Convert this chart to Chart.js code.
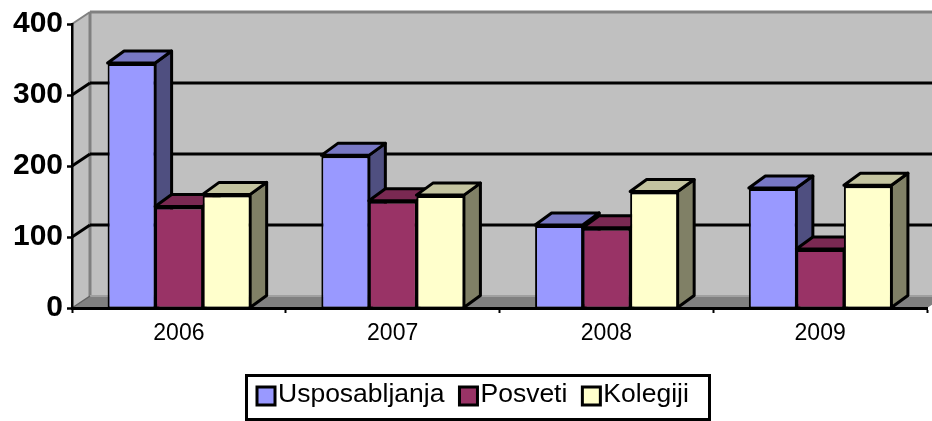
<!DOCTYPE html>
<html>
<head>
<meta charset="utf-8">
<style>
  html, body { margin: 0; padding: 0; background: #fff; overflow: hidden; }
  canvas { display: block; }
</style>
<script src="https://cdn.jsdelivr.net/npm/chart.js@4"></script>
</head>
<body>
<canvas id="trainingChart" width="932" height="421"></canvas>
<script>
const categories = ["2006", "2007", "2008", "2009"];
const usposabljanja = [345, 215, 117, 169];
const posveti = [143, 151, 113, 83];
const kolegiji = [160, 159, 164, 173];

const fronts = ["#9999FF", "#993366", "#FFFFCC"];
const tops = ["#7878C4", "#7A2952", "#C4C4A0"];
const sides = ["#4F4F80", "#4C1933", "#808066"];

// how far the back of the chart sits from the front plane
const wallDx = 18, wallDy = -12;
const barDx = 16.5, barDy = -12;

function poly(ctx, pts, fill, stroke, lw) {
    ctx.beginPath();
    pts.forEach((p, i) => i ? ctx.lineTo(p[0], p[1]) : ctx.moveTo(p[0], p[1]));
    ctx.closePath();
    if (fill) { ctx.fillStyle = fill; ctx.fill(); }
    if (stroke) { ctx.strokeStyle = stroke; ctx.lineWidth = lw; ctx.lineJoin = "round"; ctx.stroke(); }
}

function line(ctx, x1, y1, x2, y2, color, lw) {
    ctx.beginPath();
    ctx.moveTo(x1, y1);
    ctx.lineTo(x2, y2);
    ctx.strokeStyle = color;
    ctx.lineWidth = lw;
    ctx.stroke();
}

const wallsPlugin = {
    id: "walls",
    // walls, floor and the gridlines on the back wall
    beforeDraw(chart) {
        const ctx = chart.ctx, y = chart.scales.y, x = chart.scales.x;
        const l = x.left, r = x.right + 40;
        const top = y.getPixelForValue(400), bottom = y.getPixelForValue(0);
        ctx.save();
        poly(ctx, [[l + wallDx, top + wallDy], [r, top + wallDy], [r, bottom + wallDy], [l + wallDx, bottom + wallDy]], "#C0C0C0");
        poly(ctx, [[l, top], [l + wallDx, top + wallDy], [l + wallDx, bottom + wallDy], [l, bottom]], "#C0C0C0");
        poly(ctx, [[l, bottom], [l + wallDx, bottom + wallDy], [x.right + wallDx, bottom + wallDy], [x.right, bottom]], "#808080");
        line(ctx, l + wallDx, top + wallDy, r, top + wallDy, "#808080", 3);
        line(ctx, l + wallDx, top + wallDy, l + wallDx, bottom + wallDy, "#808080", 3);
        line(ctx, l, top, l + wallDx, top + wallDy, "#808080", 2);
        line(ctx, l + wallDx, bottom + wallDy, r, bottom + wallDy, "#A0A0A0", 2);
        line(ctx, l, bottom, l + wallDx, bottom + wallDy, "#606060", 1.5);
        y.ticks.forEach(t => {
            if (t.value === 0 || t.value === 400) return;
            const py = y.getPixelForValue(t.value);
            line(ctx, l, py, l + wallDx, py + wallDy, "#000", 3);
            line(ctx, l + wallDx, py + wallDy, r, py + wallDy, "#000", 3);
        });
        ctx.restore();
    },
    // chart.js paints datasets last to first, here the left bar has to go under the next one
    beforeDatasetsDraw(chart) {
        const ctx = chart.ctx;
        chart.data.datasets.forEach((ds, i) => {
            const meta = chart.getDatasetMeta(i);
            ctx.save();
            meta.data.forEach(bar => {
                const left = bar.x - bar.width / 2, right = bar.x + bar.width / 2;
                const t = bar.y, b = bar.base;
                poly(ctx, [[right, t], [right + barDx, t + barDy], [right + barDx, b + barDy], [right, b]], sides[i], "#000", 3);
                poly(ctx, [[left, t], [left + barDx, t + barDy], [right + barDx, t + barDy], [right, t]], tops[i], "#000", 3);
            });
            ctx.restore();
            meta.controller.draw();
        });
        return false;
    }
};

// boxed legend with the swatches tight against the text
const boxLegendPlugin = {
    id: "boxLegend",
    afterDraw(chart) {
        const ctx = chart.ctx;
        ctx.save();
        ctx.strokeStyle = "#000";
        ctx.lineWidth = 3;
        ctx.strokeRect(246.5, 375.5, 463, 44);
        ctx.font = "26.5px 'Liberation Sans', Arial, sans-serif";
        ctx.textBaseline = "alphabetic";
        ctx.textAlign = "left";
        let cursor = 257;
        chart.data.datasets.forEach((ds, i) => {
            ctx.fillStyle = fronts[i];
            ctx.fillRect(cursor, 387, 18, 18);
            ctx.strokeRect(cursor, 387, 18, 18);
            ctx.fillStyle = "#000";
            ctx.fillText(ds.label, cursor + 21, 402);
            cursor += 21 + ctx.measureText(ds.label).width + 15;
        });
        ctx.restore();
    }
};

new Chart(document.getElementById("trainingChart"), {
    type: "bar",
    data: {
        labels: categories,
        datasets: [
            { label: "Usposabljanja", data: usposabljanja, backgroundColor: fronts[0] },
            { label: "Posveti", data: posveti, backgroundColor: fronts[1] },
            { label: "Kolegiji", data: kolegiji, backgroundColor: fronts[2] }
        ]
    },
    options: {
        responsive: false,
        animation: false,
        layout: { padding: { left: 0, right: 5, top: 24, bottom: 0 } },
        datasets: {
            bar: {
                categoryPercentage: 0.667,
                barPercentage: 1,
                borderColor: "#000",
                borderSkipped: false,
                borderWidth: { left: 2, right: 1.5, top: 3, bottom: 1 }
            }
        },
        plugins: {
            legend: { display: false },
            tooltip: { enabled: false }
        },
        scales: {
            x: {
                afterFit: scale => { scale.height = 113; },
                border: { color: "#000", width: 3 },
                grid: { drawOnChartArea: false, color: "#000", tickLength: 5, tickWidth: 2 },
                ticks: {
                    color: "#000",
                    padding: 7,
                    maxRotation: 0,
                    font: { family: "'Liberation Sans', Arial, sans-serif", size: 23 }
                }
            },
            y: {
                min: 0,
                max: 400,
                afterFit: scale => { scale.width = 72; },
                border: { color: "#000", width: 2.5 },
                grid: { drawOnChartArea: false, color: "#000", tickLength: 5, tickWidth: 2.5 },
                ticks: {
                    stepSize: 100,
                    color: "#000",
                    padding: 4,
                    font: { family: "'Liberation Sans', Arial, sans-serif", size: 30, weight: "bold" }
                }
            }
        }
    },
    plugins: [wallsPlugin, boxLegendPlugin]
});
</script>
</body>
</html>
